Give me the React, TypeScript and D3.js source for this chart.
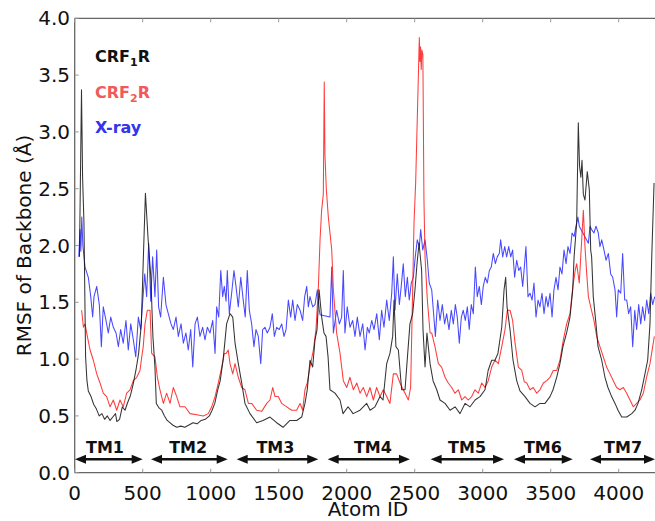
import React from "react";
import * as d3 from "d3";

type P = [number, number];

const crf1R: P[] = [[35,1.9],[50,3.37],[58,2.6],[68,2.2],[80,1.02],[90,0.81],[100,0.72],[120,0.67],[140,0.6],[160,0.56],[180,0.5],[200,0.52],[220,0.47],[240,0.5],[260,0.46],[280,0.49],[300,0.52],[310,0.45],[330,0.47],[350,0.58],[370,0.55],[390,0.62],[410,0.68],[430,0.78],[450,0.9],[470,1.05],[490,1.31],[505,1.9],[520,2.46],[540,2.05],[560,1.72],[575,1.2],[590,0.93],[600,0.61],[620,0.57],[640,0.55],[660,0.5],[680,0.46],[700,0.44],[720,0.42],[750,0.4],[780,0.41],[810,0.4],[840,0.42],[870,0.44],[900,0.43],[930,0.46],[960,0.47],[990,0.5],[1010,0.55],[1030,0.61],[1050,0.72],[1070,0.81],[1092,1.0],[1117,1.31],[1142,1.4],[1162,1.37],[1179,1.14],[1203,0.96],[1228,0.79],[1252,0.61],[1289,0.52],[1338,0.44],[1385,0.46],[1436,0.49],[1485,0.44],[1532,0.4],[1583,0.46],[1632,0.46],[1669,0.49],[1693,0.61],[1710,0.73],[1730,0.99],[1750,0.93],[1767,1.17],[1782,1.26],[1797,1.61],[1816,1.37],[1833,1.23],[1848,1.2],[1863,1.02],[1877,0.73],[1914,0.7],[1951,0.64],[1973,0.52],[2010,0.58],[2047,0.52],[2098,0.55],[2147,0.61],[2172,0.55],[2208,0.58],[2245,0.67],[2267,0.64],[2294,0.96],[2318,1.05],[2338,1.2],[2348,1.52],[2362,1.11],[2380,1.08],[2404,0.73],[2429,0.73],[2443,0.96],[2465,1.31],[2485,1.4],[2502,1.61],[2517,1.84],[2532,2.02],[2551,1.78],[2561,1.26],[2576,0.93],[2590,1.23],[2613,0.96],[2635,0.81],[2662,0.73],[2686,0.64],[2723,0.61],[2760,0.55],[2797,0.58],[2833,0.52],[2870,0.61],[2907,0.58],[2944,0.64],[2980,0.67],[3017,0.73],[3040,0.9],[3066,0.99],[3090,0.99],[3112,1.05],[3140,1.28],[3157,1.61],[3169,1.72],[3179,1.46],[3201,1.26],[3223,0.99],[3250,0.81],[3274,0.72],[3311,0.67],[3348,0.61],[3385,0.58],[3421,0.61],[3458,0.61],[3495,0.67],[3517,0.73],[3544,0.84],[3568,0.96],[3590,1.11],[3617,1.23],[3642,1.37],[3662,1.61],[3672,1.9],[3691,2.2],[3703,3.08],[3712,2.7],[3722,2.6],[3730,2.75],[3740,2.45],[3752,2.4],[3769,2.65],[3784,2.49],[3794,1.96],[3801,1.9],[3813,1.55],[3833,1.31],[3848,1.11],[3875,0.99],[3899,0.84],[3921,0.75],[3948,0.67],[3973,0.61],[3995,0.55],[4022,0.49],[4059,0.49],[4096,0.52],[4120,0.55],[4142,0.61],[4169,0.73],[4193,0.87],[4213,0.99],[4230,1.31],[4243,1.9],[4260,2.55]];

const crf2R: P[] = [[51,1.43],[64,1.28],[76,1.31],[93,1.2],[113,1.08],[137,0.99],[162,0.87],[186,0.79],[210,0.7],[235,0.67],[260,0.58],[284,0.64],[309,0.55],[333,0.64],[357,0.58],[382,0.7],[407,0.73],[431,0.81],[456,0.84],[480,0.9],[493,1.02],[504,1.11],[517,1.31],[534,1.43],[554,1.43],[566,1.05],[590,1.02],[608,0.84],[627,0.73],[652,0.61],[676,0.7],[701,0.61],[725,0.75],[750,0.67],[774,0.58],[811,0.58],[848,0.52],[897,0.51],[946,0.5],[982,0.52],[1007,0.58],[1032,0.67],[1056,0.79],[1081,0.93],[1100,1.05],[1113,1.05],[1129,1.08],[1142,0.96],[1162,0.87],[1179,0.96],[1203,0.84],[1228,0.75],[1252,0.73],[1277,0.61],[1301,0.61],[1338,0.55],[1375,0.54],[1412,0.61],[1436,0.64],[1456,0.75],[1473,0.67],[1497,0.67],[1522,0.61],[1559,0.58],[1596,0.55],[1632,0.55],[1657,0.61],[1676,0.55],[1693,0.73],[1710,0.79],[1730,0.93],[1755,1.08],[1774,1.26],[1791,1.61],[1804,2.05],[1815,2.3],[1828,2.45],[1835,3.44],[1840,2.8],[1850,2.5],[1865,2.25],[1890,1.96],[1902,1.61],[1926,1.23],[1951,1.05],[1975,0.81],[2000,0.75],[2024,0.84],[2049,0.73],[2074,0.79],[2098,0.7],[2122,0.75],[2147,0.67],[2171,0.75],[2196,0.64],[2220,0.75],[2245,0.67],[2269,0.73],[2294,0.67],[2318,0.61],[2343,0.87],[2367,0.87],[2392,0.79],[2416,0.73],[2441,0.67],[2453,0.64],[2470,0.75],[2485,1.61],[2495,2.2],[2507,2.55],[2534,3.83],[2538,3.62],[2543,3.75],[2548,3.55],[2553,3.72],[2560,3.68],[2568,2.4],[2576,1.9],[2593,1.52],[2613,1.23],[2625,1.23],[2649,1.11],[2674,0.96],[2698,0.93],[2723,0.84],[2747,0.79],[2772,0.75],[2796,0.7],[2821,0.73],[2846,0.64],[2870,0.67],[2894,0.64],[2919,0.67],[2943,0.73],[2968,0.7],[2993,0.79],[3017,0.75],[3041,0.81],[3066,0.93],[3090,0.99],[3115,0.96],[3140,1.11],[3164,1.26],[3181,1.43],[3201,1.43],[3220,1.34],[3238,1.14],[3262,0.93],[3287,0.9],[3306,0.8],[3324,0.79],[3348,0.73],[3372,0.75],[3397,0.7],[3421,0.73],[3446,0.79],[3471,0.81],[3495,0.84],[3519,0.9],[3544,0.9],[3568,0.99],[3593,1.17],[3617,1.31],[3642,1.4],[3662,1.63],[3680,1.78],[3691,1.84],[3710,1.67],[3728,2.05],[3740,2.31],[3752,1.99],[3765,1.75],[3777,1.55],[3794,1.46],[3818,1.34],[3838,1.2],[3862,1.11],[3887,1.02],[3911,0.93],[3936,0.87],[3960,0.81],[3985,0.75],[4009,0.73],[4034,0.75],[4059,0.7],[4083,0.64],[4107,0.58],[4132,0.61],[4156,0.64],[4181,0.7],[4205,0.84],[4230,0.96],[4254,1.14],[4262,1.2]];

const xray: P[] = [[30,1.9],[39,2.14],[45,1.95],[52,2.25],[60,2.0],[76,1.81],[100,1.72],[118,1.55],[132,1.37],[142,1.55],[162,1.64],[181,1.48],[196,1.11],[210,1.46],[230,1.34],[247,1.23],[265,1.37],[284,1.28],[304,1.23],[321,1.11],[338,1.26],[357,1.14],[377,1.34],[394,1.08],[412,1.31],[431,1.17],[449,1.02],[468,1.37],[485,1.26],[500,1.51],[515,1.75],[529,1.55],[544,2.02],[559,1.51],[573,1.9],[590,1.55],[603,1.96],[617,1.46],[632,1.37],[652,1.72],[671,1.48],[688,1.4],[708,1.31],[725,1.26],[745,1.37],[762,1.2],[782,1.31],[799,1.14],[818,1.23],[835,1.08],[853,1.26],[868,0.93],[885,1.31],[902,1.37],[921,1.2],[941,1.28],[958,1.17],[975,1.28],[995,1.23],[1015,1.34],[1032,1.05],[1044,1.46],[1059,1.37],[1074,1.78],[1088,1.55],[1100,1.64],[1113,1.51],[1122,1.78],[1137,1.4],[1154,1.58],[1171,1.78],[1186,1.64],[1203,1.46],[1221,1.72],[1240,1.51],[1254,1.37],[1269,1.78],[1284,1.43],[1301,1.31],[1318,1.11],[1333,1.26],[1350,1.2],[1368,0.96],[1382,1.26],[1399,1.28],[1416,1.23],[1436,1.28],[1453,1.4],[1468,1.2],[1485,1.28],[1504,1.26],[1522,1.31],[1539,1.2],[1554,1.26],[1571,1.52],[1588,1.37],[1603,1.52],[1620,1.34],[1637,1.48],[1657,1.43],[1676,1.34],[1691,1.55],[1706,1.64],[1718,1.46],[1730,1.55],[1750,1.46],[1767,1.48],[1784,1.61],[1799,1.43],[1804,1.39],[1877,1.37],[1890,1.81],[1902,1.23],[1926,1.43],[1946,1.31],[1963,1.37],[1975,1.78],[1987,1.23],[2004,1.46],[2024,1.28],[2044,1.34],[2061,1.2],[2078,1.37],[2098,1.2],[2118,1.31],[2135,1.08],[2152,1.28],[2166,1.23],[2184,1.34],[2201,1.26],[2221,1.4],[2240,1.17],[2257,1.43],[2274,1.28],[2294,1.52],[2313,1.34],[2331,1.58],[2343,1.9],[2355,1.43],[2372,1.75],[2387,1.48],[2401,1.64],[2416,1.84],[2431,1.55],[2446,1.72],[2460,1.52],[2475,1.67],[2490,1.72],[2504,1.9],[2519,2.05],[2534,1.99],[2544,2.14],[2559,1.96],[2576,2.05],[2593,1.87],[2607,1.67],[2625,1.61],[2637,1.43],[2652,1.2],[2669,1.52],[2686,1.34],[2703,1.48],[2720,1.31],[2735,1.4],[2752,1.26],[2769,1.43],[2784,1.31],[2799,1.48],[2813,1.37],[2828,1.14],[2843,1.37],[2857,1.43],[2872,1.34],[2887,1.46],[2901,1.26],[2916,1.48],[2931,1.4],[2946,1.81],[2960,1.55],[2975,1.64],[2990,1.48],[3004,1.64],[3019,1.72],[3034,1.67],[3049,1.78],[3063,1.81],[3078,1.93],[3093,1.84],[3107,1.9],[3122,1.93],[3132,2.05],[3147,1.9],[3162,1.99],[3176,1.9],[3191,1.99],[3206,1.9],[3220,1.96],[3235,1.72],[3250,1.87],[3265,1.78],[3279,1.81],[3294,1.64],[3304,1.78],[3318,1.99],[3333,1.55],[3348,1.58],[3363,1.52],[3377,1.67],[3392,1.37],[3407,1.52],[3421,1.46],[3436,1.58],[3451,1.4],[3466,1.55],[3480,1.46],[3495,1.58],[3510,1.37],[3524,1.61],[3539,1.72],[3554,1.61],[3568,1.81],[3583,1.75],[3598,1.96],[3613,1.84],[3627,1.99],[3642,1.93],[3657,2.11],[3672,2.08],[3686,2.17],[3700,2.25],[3710,2.17],[3777,2.02],[3789,2.17],[3801,2.14],[3818,2.11],[3833,2.17],[3850,2.11],[3862,1.99],[3875,2.05],[3892,1.96],[3907,1.87],[3924,1.93],[3941,1.75],[3956,1.72],[3973,1.61],[3985,1.37],[3997,1.61],[4015,1.58],[4029,1.93],[4044,1.52],[4059,1.52],[4073,1.4],[4088,1.46],[4103,1.11],[4118,1.43],[4132,1.26],[4147,1.48],[4162,1.31],[4176,1.46],[4191,1.34],[4206,1.52],[4221,1.4],[4235,1.58],[4250,1.48],[4265,1.55]];

const tmNames = ["TM1", "TM2", "TM3", "TM4", "TM5", "TM6", "TM7"];
const tmStart = [2, 561, 1191, 1860, 2617, 3230, 3789];
const tmEnd = [500, 1125, 1791, 2465, 3157, 3662, 4267];
const tmLabelX = [223, 834, 1476, 2193, 2885, 3443, 4032];

const xTicks = [0, 500, 1000, 1500, 2000, 2500, 3000, 3500, 4000];
const yTicks = [0, 0.5, 1, 1.5, 2, 2.5, 3, 3.5, 4];

const W = 655, H = 521;
const L = 74.7, T = 18.3, B = 472.7;
const XMAX = 4300;
const PXPER = 0.136;

export default function App() {
  const x = d3.scaleLinear().domain([0, XMAX]).range([L, L + XMAX * PXPER]);
  const y = d3.scaleLinear().domain([0, 4]).range([B, T]);
  const line = d3.line<P>().x(d => x(d[0])).y(d => y(d[1]));
  const font = "DejaVu Sans, sans-serif";
  const arrowY = y(0.118);
  const head = 11, hw = 4.5;

  return (
    <svg width={W} height={H} style={{ position: "absolute", left: 0, top: 0, background: "#fff" }} fontFamily={font}>
      <defs>
        <clipPath id="plot"><rect x={L} y={T} width={W - L} height={B - T} /></clipPath>
      </defs>
      <g clipPath="url(#plot)" fill="none" strokeWidth={1.05} strokeLinejoin="round">
        <path d={line(xray) || ""} stroke="#1a1aff" strokeOpacity={0.8} />
        <path d={line(crf2R) || ""} stroke="#ff1a1a" strokeOpacity={0.85} />
        <path d={line(crf1R) || ""} stroke="#111" strokeOpacity={0.85} />
      </g>
      <g stroke="#666" strokeWidth={1.3} fill="none">
        <line x1={L} y1={T} x2={L} y2={B} />
        <line x1={L} y1={T} x2={W} y2={T} />
        <line x1={L} y1={B} x2={W} y2={B} />
      </g>
      <g stroke="#999" strokeWidth={1}>
        {xTicks.map(t => (
          <g key={"xt" + t}>
            <line x1={x(t)} x2={x(t)} y1={B} y2={B - 4} />
            <line x1={x(t)} x2={x(t)} y1={T} y2={T + 4} />
          </g>
        ))}
        {yTicks.map(t => (
          <line key={"yt" + t} x1={L} x2={L + 4} y1={y(t)} y2={y(t)} />
        ))}
      </g>
      <g fontSize={20} fill="#111">
        {xTicks.map(t => (
          <text key={"xl" + t} x={x(t)} y={500} textAnchor="middle">{t}</text>
        ))}
        {yTicks.map(t => (
          <text key={"yl" + t} x={70} y={y(t) + 7} textAnchor="end">{t.toFixed(1)}</text>
        ))}
        <text x={368} y={516} textAnchor="middle">Atom ID</text>
        <text transform={`translate(31,${(T + B) / 2}) rotate(-90)`} textAnchor="middle">RMSF of Backbone (Å)</text>
      </g>
      <g>
        {tmNames.map((n, i) => {
          const a = x(tmStart[i]), b = x(tmEnd[i]);
          return (
            <g key={n}>
              <line x1={a + head - 1} x2={b - head + 1} y1={arrowY} y2={arrowY} stroke="#111" strokeWidth={2.6} />
              <polygon points={`${a},${arrowY} ${a + head},${arrowY - hw} ${a + head},${arrowY + hw}`} fill="#111" />
              <polygon points={`${b},${arrowY} ${b - head},${arrowY - hw} ${b - head},${arrowY + hw}`} fill="#111" />
              <text x={x(tmLabelX[i])} y={453} textAnchor="middle" fontSize={16} fontWeight="bold" fill="#111">{n}</text>
            </g>
          );
        })}
      </g>
      <g fontSize={16} fontWeight="bold">
        <text x={95} y={62} fill="#111">CRF<tspan fontSize={11} dy={4}>1</tspan><tspan dy={-4}>R</tspan></text>
        <text x={95} y={98} fill="#f05a5a">CRF<tspan fontSize={11} dy={4}>2</tspan><tspan dy={-4}>R</tspan></text>
        <text x={95} y={133} fill="#3333f0">X-ray</text>
      </g>
    </svg>
  );
}
